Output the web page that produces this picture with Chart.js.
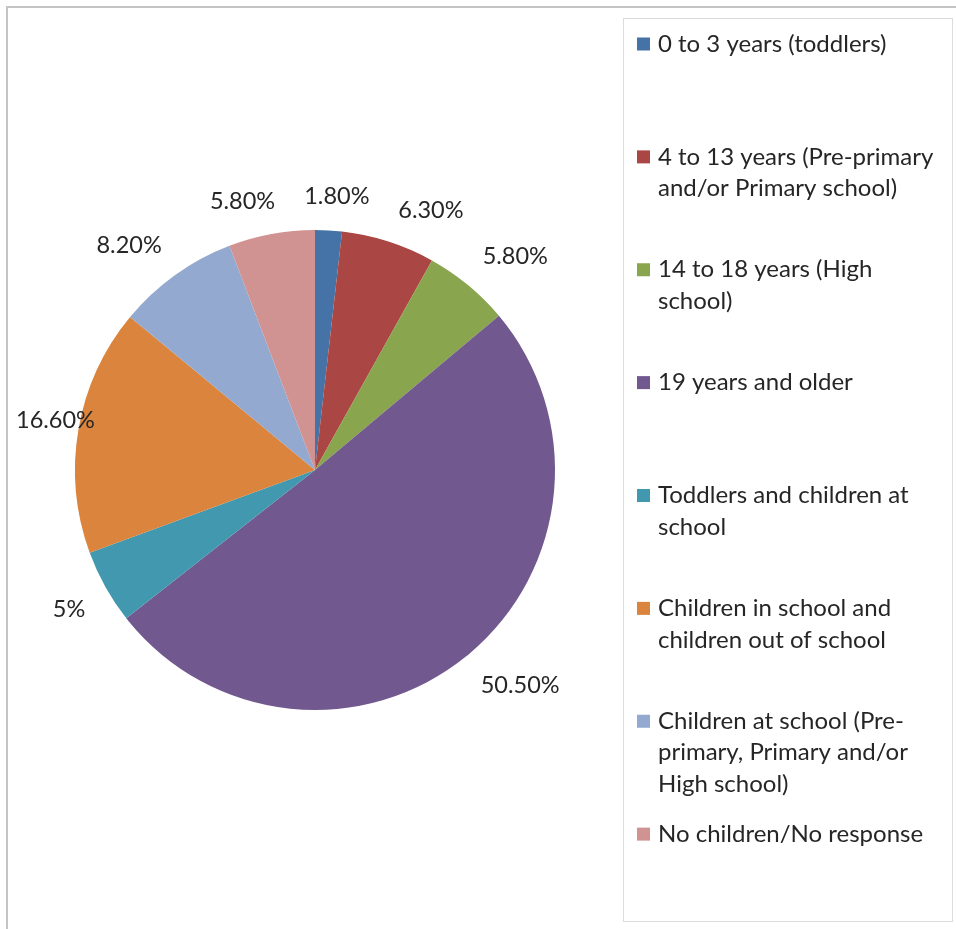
<!DOCTYPE html>
<html>
<head>
<meta charset="utf-8">
<script src="https://cdn.jsdelivr.net/npm/chart.js@4.4.1/dist/chart.umd.min.js"></script>
<style>
  html, body { margin: 0; padding: 0; background: #fff; }
  #wrap { width: 956px; height: 929px; }
</style>
</head>
<body>
<div id="wrap"><canvas id="myChart" width="956" height="929"></canvas></div>
<script>
"use strict";
// categories (legend text, one array entry per line)
var categories = [
    ["0 to 3 years (toddlers)"],
    ["4 to 13 years (Pre-primary", "and/or Primary school)"],
    ["14 to 18 years (High", "school)"],
    ["19 years and older"],
    ["Toddlers and children at", "school"],
    ["Children in school and", "children out of school"],
    ["Children at school (Pre-", "primary, Primary and/or", "High school)"],
    ["No children/No response"]
];
var shares = [1.8, 6.3, 5.8, 50.5, 5, 16.6, 8.2, 5.8];
var valueLabels = ["1.80%", "6.30%", "5.80%", "50.50%", "5%", "16.60%", "8.20%", "5.80%"];
var colours = ["#4572A7", "#AA4643", "#89A54E", "#71588F", "#4198AF", "#DB843D", "#93A9CF", "#D19392"];

var FONT = "Lato, 'Open Sans', sans-serif";

function clamp1(v) { return Math.max(-1, Math.min(1, v)); }

// outer frame (left and top edges visible)
var framePlugin = {
    id: "frame",
    beforeDraw: function (chart) {
        var c = chart.ctx;
        c.save();
        c.strokeStyle = "#c4c4c4";
        c.lineWidth = 2;
        c.beginPath();
        c.moveTo(7, chart.height);
        c.lineTo(7, 7);
        c.lineTo(chart.width, 7);
        c.stroke();
        c.restore();
    }
};

// percentage labels outside each slice, Excel "outside end" style
var outsideLabels = {
    id: "outsideLabels",
    afterDatasetsDraw: function (chart) {
        var c = chart.ctx;
        var meta = chart.getDatasetMeta(0);
        c.save();
        c.font = "23.5px " + FONT;
        c.fillStyle = "#262626";
        c.textAlign = "center";
        c.textBaseline = "middle";
        var hh = 11, gap = 28;
        var items = meta.data.map(function (arc, i) {
            return {
                arc: arc,
                ang: (arc.startAngle + arc.endAngle) / 2,
                txt: valueLabels[i],
                hw: c.measureText(valueLabels[i]).width / 2
            };
        });
        function place(it) {
            var a = it.arc, cs = Math.cos(it.ang), sn = Math.sin(it.ang);
            var d = a.outerRadius + 23;
            it.x = a.x + d * cs + it.hw * clamp1(cs * 3);
            it.y = a.y + d * sn + hh * clamp1(sn * 3);
            if (it.x - it.hw < 16) it.x = 16 + it.hw;
        }
        // push neighbouring labels apart along the circle
        for (var iter = 0; iter < 300; iter++) {
            items.forEach(place);
            var moved = false;
            for (var i = 0; i < items.length; i++) {
                var p = items[i], q = items[(i + 1) % items.length];
                var overlapY = Math.abs(p.y - q.y) < 2 * hh + 4;
                var dx = Math.abs(p.x - q.x) - p.hw - q.hw;
                if (overlapY && dx < gap) {
                    p.ang -= 0.004;
                    q.ang += 0.004;
                    moved = true;
                }
            }
            if (!moved) break;
        }
        items.forEach(function (it) {
            place(it);
            c.fillText(it.txt, it.x, it.y);
        });
        c.restore();
    }
};

// legend box on the right
var sideLegend = {
    id: "sideLegend",
    afterDraw: function (chart) {
        var c = chart.ctx;
        var left = 623, top = 18, right = 952, bottom = 921;
        c.save();
        c.strokeStyle = "#dcdcdc";
        c.lineWidth = 1;
        c.strokeRect(left + 0.5, top + 0.5, right - left, bottom - top);
        var labels = chart.data.labels;
        var bg = chart.data.datasets[0].backgroundColor;
        var slot = (bottom - top) / labels.length;
        c.font = "24px " + FONT;
        c.textBaseline = "middle";
        c.textAlign = "left";
        labels.forEach(function (lines, i) {
            var y0 = top + 26 + i * slot;
            c.fillStyle = bg[i];
            c.fillRect(637, y0 - 6.5, 13, 13);
            c.fillStyle = "#262626";
            lines.forEach(function (ln, k) {
                c.fillText(ln, 658, y0 + k * 31.5);
            });
        });
        c.restore();
    }
};

var ctx = document.getElementById("myChart").getContext("2d");
var chart = new Chart(ctx, {
    type: "pie",
    data: {
        labels: categories,
        datasets: [{
            data: shares,
            backgroundColor: colours,
            borderWidth: 0
        }]
    },
    options: {
        responsive: false,
        animation: false,
        layout: { padding: { left: 75, right: 401, top: 230, bottom: 219 } },
        plugins: {
            legend: { display: false },
            tooltip: { enabled: false }
        }
    },
    plugins: [framePlugin, outsideLabels, sideLegend]
});
</script>
</body>
</html>
